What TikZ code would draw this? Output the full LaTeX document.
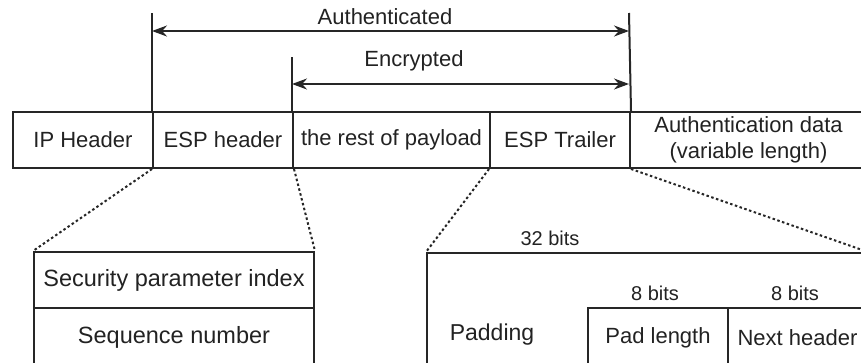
\documentclass[tikz,border=0pt]{standalone}
\usepackage{fontspec}
\setmainfont{Liberation Sans}
\usetikzlibrary{arrows.meta}
\definecolor{linec}{HTML}{262626}
\definecolor{textc}{HTML}{222222}
\begin{document}
\begin{tikzpicture}[x=1pt,y=-1pt,
  cell/.style={draw=linec, line width=2pt, inner sep=0pt, anchor=north west,
    text=textc, font=\fontsize{22}{26}\selectfont, align=center},
  bigcell/.style={cell, font=\fontsize{23.5}{27}\selectfont},
  lbl/.style={inner sep=0pt, text=textc, font=\fontsize{22}{26}\selectfont},
  bitlbl/.style={inner sep=0pt, text=textc, font=\fontsize{20}{24}\selectfont},
  guide/.style={draw=linec, line width=2pt},
  span/.style={draw=linec, line width=2pt, {Stealth[length=15pt,width=11pt]}-{Stealth[length=15pt,width=11pt]}},
  zoomline/.style={draw=linec, line width=2pt, dash pattern=on 2.5pt off 2.5pt}]
\useasboundingbox (0,0) rectangle (861,362);
\clip (0,0) rectangle (861,362);

% ESP packet layout
\node[cell, minimum width=140pt, minimum height=56pt] (ip)   at (12,111)  {IP Header};
\node[cell, minimum width=140pt, minimum height=56pt] (esp)  at (152,111) {ESP header};
\node[cell, minimum width=197pt, minimum height=56pt] (rest) at (292,111) {the rest of payload};
\node[cell, minimum width=140pt, minimum height=56pt] (trl)  at (489,111) {ESP Trailer};
\node[cell, minimum width=237pt, minimum height=56pt] (auth) at (629,111) {Authentication data\\(variable length)};

% coverage markers
\coordinate (aTopL) at (152,13);
\coordinate (aTopR) at (629,13);
\coordinate (eTopL) at (292,57);
\coordinate (aL) at (152,31);
\coordinate (aR) at (629,31);
\coordinate (eL) at (292,84);
\coordinate (eR) at (629,84);
\draw[guide] (aTopL) -- (esp.north west);
\draw[guide] (aTopR) -- (trl.north east);
\draw[guide] (eTopL) -- (rest.north west);
\draw[span] (aL) -- (aR);
\draw[span] (eL) -- (eR);
\node[lbl] (authlbl) at (385,17) {Authenticated};
\node[lbl] (enclbl)  at (414,61) {Encrypted};

% ESP header fields
\node[bigcell, minimum width=280pt, minimum height=56pt] (spi) at (33,251) {Security parameter index};
\node[bigcell, minimum width=280pt, minimum height=58pt] (seq) at (33,307) {Sequence number};

% ESP trailer fields
\node[cell, minimum width=440pt, minimum height=150pt] (tbox) at (426,252) {};
\node[lbl, font=\fontsize{23}{27}\selectfont] (padding) at (492,335) {Padding};
\node[cell, minimum width=140pt, minimum height=60pt] (padlen) at (587,307) {Pad length};
\node[cell, minimum width=139pt, minimum height=60pt] (nexth) at (727,307) {Next header};
\node[bitlbl] (b32) at (550,238) {32 bits};
\node[bitlbl] (b8a) at (655,293) {8 bits};
\node[bitlbl] (b8b) at (795,293) {8 bits};

% expansion guides
\draw[zoomline] (esp.south west) -- (spi.north west);
\draw[zoomline] (esp.south east) -- (spi.north east);
\draw[zoomline] (trl.south west) -- (tbox.north west);
\draw[zoomline] (trl.south east) -- (tbox.north east);
\end{tikzpicture}
\end{document}
